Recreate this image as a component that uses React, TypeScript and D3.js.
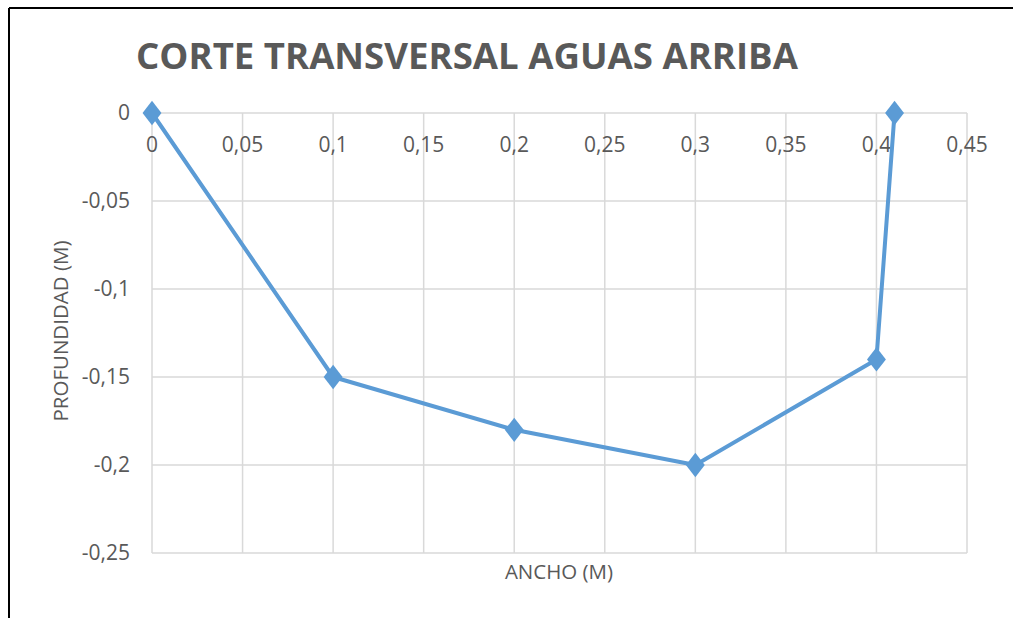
// Corte transversal aguas arriba - scatter with lines, Excel look
import React, { useEffect, useRef } from 'react';
import * as d3 from 'd3';

const anchoValues = [0, 0.1, 0.2, 0.3, 0.4, 0.41];
const profundidadValues = [0, -0.15, -0.18, -0.2, -0.14, 0];
const xTickValues = [0, 0.05, 0.1, 0.15, 0.2, 0.25, 0.3, 0.35, 0.4, 0.45];
const yTickValues = [0, -0.05, -0.1, -0.15, -0.2, -0.25];

const fmt = (v: number) => String(+v.toFixed(2)).replace('.', ',');

const App: React.FC = () => {
  const svgRef = useRef<SVGSVGElement>(null);

  useEffect(() => {
    if (!svgRef.current) return;
    const svg = d3.select(svgRef.current);
    svg.selectAll('*').remove();

    const width = 1013;
    const height = 618;
    const font = '"Open Sans", sans-serif';

    svg.append('rect').attr('width', width).attr('height', height).attr('fill', '#fff');

    // chart frame (only left and top edges visible)
    svg.append('line').attr('x1', 9).attr('y1', 8).attr('x2', width).attr('y2', 8)
      .attr('stroke', '#000').attr('stroke-width', 2);
    svg.append('line').attr('x1', 9).attr('y1', 8).attr('x2', 9).attr('y2', height)
      .attr('stroke', '#000').attr('stroke-width', 2);

    const x = d3.scaleLinear().domain([0, 0.45]).range([152, 967]);
    const y = d3.scaleLinear().domain([0, -0.25]).range([113, 553]);

    const grid = svg.append('g');
    xTickValues.forEach(v => {
      grid.append('line')
        .attr('x1', x(v)).attr('x2', x(v)).attr('y1', y(0)).attr('y2', y(-0.25))
        .attr('stroke', '#d9d9d9').attr('stroke-width', 1.5);
    });
    yTickValues.forEach(v => {
      grid.append('line')
        .attr('x1', x(0)).attr('x2', x(0.45)).attr('y1', y(v)).attr('y2', y(v))
        .attr('stroke', '#d9d9d9').attr('stroke-width', 1.5);
    });

    // x tick labels hang under the zero line
    svg.append('g').selectAll('text').data(xTickValues).enter().append('text')
      .attr('x', d => x(d)).attr('y', y(0) + 39)
      .attr('text-anchor', 'middle')
      .attr('font-family', font).attr('font-size', 21).attr('fill', '#595959')
      .text(d => fmt(d));

    svg.append('g').selectAll('text').data(yTickValues).enter().append('text')
      .attr('x', 130).attr('y', d => y(d) + 7)
      .attr('text-anchor', 'end')
      .attr('font-family', font).attr('font-size', 21).attr('fill', '#595959')
      .text(d => fmt(d));

    // series
    const pts = anchoValues.map((a, i) => [a, profundidadValues[i]] as [number, number]);
    const line = d3.line<[number, number]>().x(d => x(d[0])).y(d => y(d[1]));
    svg.append('path').attr('d', line(pts) as string)
      .attr('fill', 'none').attr('stroke', '#5b9bd5').attr('stroke-width', 4)
      .attr('stroke-linejoin', 'round');

    const diamond = d3.symbol().type(d3.symbolDiamond).size(170);
    svg.append('g').selectAll('path').data(pts).enter().append('path')
      .attr('d', diamond() as string)
      .attr('transform', d => `translate(${x(d[0])},${y(d[1])}) scale(1.35,1)`)
      .attr('fill', '#5b9bd5');

    // titles
    svg.append('text')
      .attr('x', 467).attr('y', 69)
      .attr('text-anchor', 'middle')
      .attr('font-family', font).attr('font-weight', 'bold').attr('font-size', 36.6)
      .attr('fill', '#595959')
      .text('CORTE TRANSVERSAL AGUAS ARRIBA');

    svg.append('text')
      .attr('x', 559).attr('y', 579)
      .attr('text-anchor', 'middle')
      .attr('font-family', font).attr('font-size', 20.5).attr('fill', '#595959')
      .text('ANCHO (M)');

    svg.append('text')
      .attr('transform', `translate(68,331) rotate(-90)`)
      .attr('text-anchor', 'middle')
      .attr('font-family', font).attr('font-size', 20.5).attr('fill', '#595959')
      .text('PROFUNDIDAD (M)');
  }, []);

  return (
    <div style={{ position: 'fixed', left: 0, top: 0 }}>
      <svg ref={svgRef} width={1013} height={618} style={{ display: 'block' }} />
    </div>
  );
};

export default App;
